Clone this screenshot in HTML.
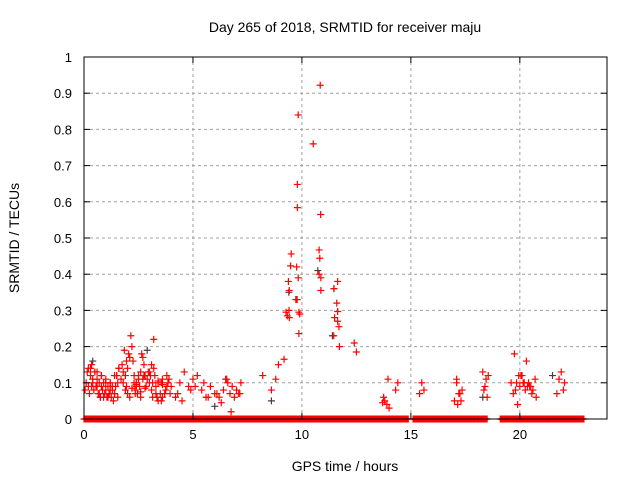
<!DOCTYPE html>
<html><head><meta charset="utf-8"><style>
body{margin:0;background:#fff}
svg{display:block;font-family:"Liberation Sans",sans-serif}
</style></head><body>
<svg id="chart" width="640" height="480">
<text x="345" y="32" text-anchor="middle" font-size="14">Day 265 of 2018, SRMTID for receiver maju</text>
<text x="345" y="471" text-anchor="middle" font-size="14">GPS time / hours</text>
<text transform="translate(19,238) rotate(-90)" text-anchor="middle" font-size="14">SRMTID / TECUs</text>
<g id="grid"></g><g id="zero"></g><g id="pts"></g><g id="axes"></g>
</svg>
<script>
const xTicks=[0,5,10,15,20];
const yTicks=[0,0.1,0.2,0.3,0.4,0.5,0.6,0.7,0.8,0.9,1];
const yTickLabels=["0","0.1","0.2","0.3","0.4","0.5","0.6","0.7","0.8","0.9","1"];
const zeroSegments=[[0,14.9],[15.1,18.5],[19.1,22.95]];
const redHours=[10.84,9.83,10.52,9.79,9.79,10.86,9.51,10.79,10.82,9.48,9.76,10.79,9.83,10.87,11.64,9.38,9.42,11.47,10.87,9.72,9.78,11.6,9.41,9.86,9.9,11.64,9.27,9.33,9.42,11.5,11.64,11.7,9.86,11.46,11.72,12.4,12.5,9.18,8.92,8.8,8.6,8.2,
0.05,0.1,0.15,0.2,0.25,0.3,0.35,0.4,0.45,0.5,0.55,0.6,0.65,0.7,0.75,0.8,0.85,0.9,0.95,1.0,1.05,1.1,1.15,1.2,1.25,1.3,1.35,1.4,1.45,1.5,1.55,1.6,1.7,1.75,1.8,1.85,1.9,1.95,2.0,2.05,2.1,2.15,2.2,2.25,2.3,2.35,2.4,2.45,2.5,2.55,2.6,2.65,2.7,2.75,2.8,2.85,2.9,2.95,3.0,3.05,3.1,3.15,3.2,3.25,3.3,3.35,3.4,3.5,3.55,3.6,3.7,3.75,3.8,3.85,3.9,
0.3,0.5,0.7,0.9,1.1,1.3,1.5,1.9,2.1,2.3,2.5,2.7,3.1,3.3,3.6,0.6,0.8,1.0,1.2,1.4,2.4,2.6,2.8,3.4,
0.2,0.4,0.6,0.8,1.0,1.2,1.4,1.6,1.8,2.0,2.2,2.4,2.6,2.8,3.0,3.2,3.4,3.6,3.8,4.0,0.35,0.75,1.15,1.55,1.95,2.35,2.75,3.15,3.55,3.95,
4.2,4.4,4.6,4.8,5.0,5.2,5.4,5.6,5.8,6.0,6.2,6.4,6.5,6.6,6.7,6.8,7.0,7.1,7.2,4.3,4.9,5.5,6.1,6.55,6.9,7.15,4.5,5.1,5.7,6.3,6.75,
13.7,13.8,13.9,14.0,14.3,14.4,13.75,13.95,15.4,15.5,15.6,
17.0,17.1,17.15,17.2,17.3,17.35,17.1,17.25,18.3,18.4,18.45,18.5,18.55,18.35,
19.6,19.7,19.8,19.9,20.0,20.1,20.2,20.3,20.4,20.5,20.6,20.7,19.75,19.95,20.15,20.35,20.55,20.75,19.85,20.05,20.25,20.45,
21.7,21.8,21.9,22.0,22.05,22.1,22.5,22.6,22.7,22.8,22.55,22.75,21.85,21.95,22.65];
const redValues=[0.922,0.84,0.76,0.648,0.584,0.565,0.456,0.467,0.444,0.423,0.42,0.40,0.39,0.39,0.38,0.38,0.355,0.36,0.355,0.33,0.33,0.32,0.30,0.295,0.29,0.297,0.295,0.285,0.28,0.28,0.27,0.255,0.236,0.23,0.2,0.21,0.185,0.165,0.15,0.11,0.08,0.12,
0.08,0.1,0.13,0.09,0.07,0.12,0.15,0.1,0.08,0.13,0.09,0.11,0.07,0.1,0.06,0.12,0.08,0.1,0.07,0.11,0.06,0.09,0.07,0.1,0.06,0.08,0.05,0.07,0.09,0.12,0.1,0.14,0.11,0.15,0.13,0.19,0.12,0.16,0.14,0.18,0.17,0.23,0.2,0.16,0.12,0.08,0.1,0.07,0.11,0.09,0.13,0.18,0.17,0.15,0.12,0.09,0.11,0.13,0.1,0.12,0.08,0.1,0.14,0.12,0.09,
0.06,0.05,0.07,0.05,0.06,0.07,0.08,0.09,0.1,0.11,0.14,0.13,0.07,0.06,0.06,0.09,0.12,0.08,0.06,0.1,0.12,0.11,0.15,0.07,
0.11,0.09,0.12,0.1,0.08,0.07,0.09,0.06,0.12,0.1,0.14,0.11,0.13,0.09,0.08,0.1,0.12,0.14,0.1,0.07,0.085,0.095,0.075,0.085,0.13,0.22,0.105,0.095,0.12,0.09,
0.09,0.06,0.07,0.06,0.09,0.07,0.12,0.06,0.1,0.07,0.06,0.1,0.13,0.09,0.11,0.12,0.08,0.06,0.09,0.07,0.06,0.08,0.11,0.1,0.07,0.09,0.08,0.07,0.1,0.07,0.08,
0.1,0.07,0.11,0.06,0.07,0.05,0.09,0.06,0.045,0.02,0.045,
0.05,0.04,0.03,0.08,0.1,0.06,0.11,0.07,0.1,0.08,0.05,0.11,0.04,0.07,
0.05,0.08,0.1,0.07,0.13,0.09,0.11,0.06,0.12,0.08,0.1,0.07,0.08,0.04,0.09,0.12,0.1,0.16,0.1,0.09,0.08,0.11,
0.18,0.12,0.1,0.09,0.07,0.06,0.1,0.12,0.08,0.09,0.07,0.11,0.13,0.08,0.1];
const grayHours=[9.4,10.73,11.47,11.4,9.77,0.4,2.9,8.6,18.3,21.5,6.0,1.2];
const grayValues=[0.35,0.41,0.36,0.23,0.33,0.16,0.19,0.05,0.06,0.12,0.035,0.09];

const X0=84,X1=607,Y0=419,Y1=57,XMAX=24;
const sx=h=>X0+h/XMAX*(X1-X0);
const sy=v=>Y0-v*(Y0-Y1);
const NS="http://www.w3.org/2000/svg";
function mk(tag,attrs,parent){const e=document.createElementNS(NS,tag);for(const k in attrs)e.setAttribute(k,attrs[k]);parent.appendChild(e);return e;}
const grid=document.getElementById('grid'),axes=document.getElementById('axes'),pts=document.getElementById('pts'),zero=document.getElementById('zero');
yTicks.forEach((v,i)=>{
  if(i>0&&i<yTicks.length-1){const l=mk('line',{x1:X0,x2:X1,y1:sy(v),y2:sy(v),stroke:'#a0a0a0','stroke-dasharray':'3,3'},grid);
  
  }
  mk('line',{x1:X0,x2:X0+6,y1:sy(v),y2:sy(v),stroke:'#000'},axes);
  mk('line',{x1:X1,x2:X1-6,y1:sy(v),y2:sy(v),stroke:'#000'},axes);
  const t=mk('text',{x:X0-12,y:sy(v)+5,'text-anchor':'end','font-size':13},axes);t.textContent=yTickLabels[i];
  
  
});
xTicks.forEach(h=>{
  if(h>0){const l=mk('line',{x1:sx(h),x2:sx(h),y1:Y0,y2:Y1,stroke:'#a0a0a0','stroke-dasharray':'3,3'},grid);
  
  }
  mk('line',{x1:sx(h),x2:sx(h),y1:Y0,y2:Y0-6,stroke:'#000'},axes);
  mk('line',{x1:sx(h),x2:sx(h),y1:Y1,y2:Y1+6,stroke:'#000'},axes);
  const t=mk('text',{x:sx(h),y:Y0+20,'text-anchor':'middle','font-size':13},axes);t.textContent=String(h);
  
  
});
const frame=mk('rect',{x:X0,y:Y1,width:X1-X0,height:Y0-Y1,fill:'none',stroke:'#000'},axes);


function plus(h,v,color,parent,name){
  const x=sx(h),y=sy(v);
  const p=mk('path',{d:`M${x-3.5},${y}H${x+3.5}M${x},${y-3.5}V${y+3.5}`,stroke:color,'stroke-width':1.2,fill:'none'},parent);
  
  
}
zeroSegments.forEach(s=>{for(let h=s[0];h<=s[1];h+=0.04)plus(h,0,'#ff0000',zero,'zero-point');});
grayHours.forEach((h,i)=>plus(h,grayValues[i],'#404040',pts,'gray-point'));
redHours.forEach((h,i)=>plus(h,redValues[i],'#ff0000',pts,'red-point'));
</script>
</body></html>
